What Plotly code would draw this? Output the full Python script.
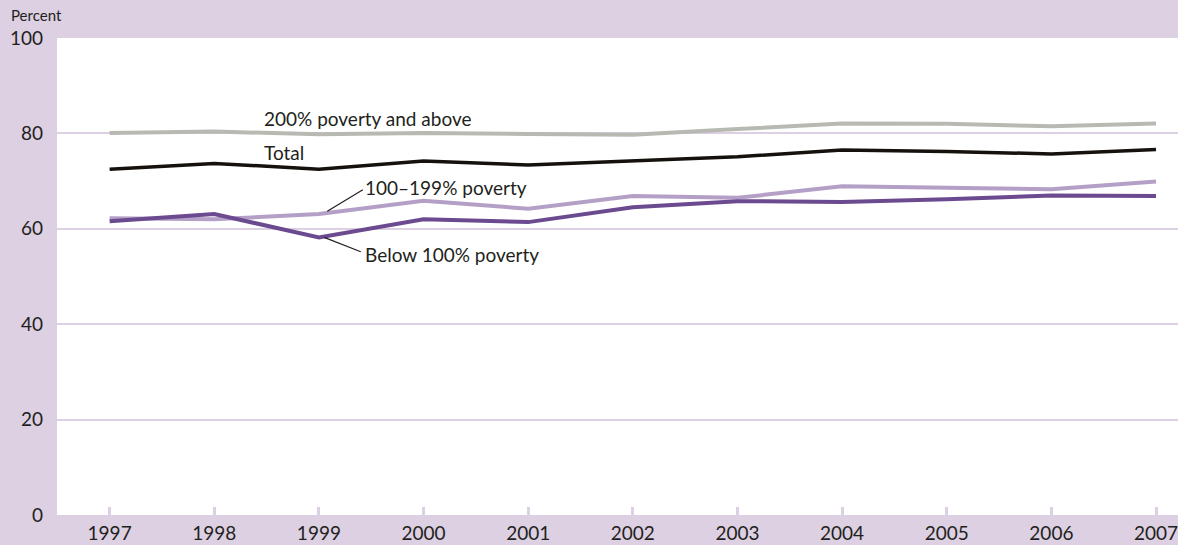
"""Line chart: percent by poverty status, 1997-2007."""
import plotly.graph_objects as go

BG = "#dcd0e2"
TEXT = "#231f20"
FONT = "Lato, 'Noto Sans', sans-serif"

years = [1997, 1998, 1999, 2000, 2001, 2002, 2003, 2004, 2005, 2006, 2007]

above_200 = [80.1, 80.4, 79.8, 80.1, 79.9, 79.7, 80.9, 82.1, 82.0, 81.5, 82.1]
total = [72.5, 73.7, 72.5, 74.2, 73.4, 74.3, 75.1, 76.5, 76.2, 75.7, 76.6]
pov_100_199 = [62.2, 62.0, 63.1, 65.9, 64.2, 66.9, 66.5, 68.9, 68.6, 68.3, 69.9]
below_100 = [61.6, 63.1, 58.2, 62.0, 61.4, 64.5, 65.8, 65.6, 66.2, 67.0, 66.9]

y_ticks = [0, 20, 40, 60, 80, 100]

series = [
    ("200% poverty and above", above_200, "#b9b9b4", 4),
    ("Total", total, "#15110d", 3.5),
    ("100–199% poverty", pov_100_199, "#b4a0c6", 4),
    ("Below 100% poverty", below_100, "#6b4a8f", 4),
]

# label text, x, y (data units)
labels = [
    ("200% poverty and above", 1998.46, 83.2),
    ("Total", 1998.46, 76.0),
    ("100–199% poverty", 1999.42, 68.6),
    ("Below 100% poverty", 1999.42, 54.7),
]

# leader lines: (x0, y0, x1, y1)
leaders = [
    (1999.08, 63.7, 1999.42, 68.2),
    (1999.05, 58.2, 1999.40, 55.2),
]

fig = go.Figure()
for name, vals, color, width in series:
    fig.add_trace(go.Scatter(
        x=years, y=vals, mode="lines", name=name,
        line=dict(color=color, width=width),
    ))

for text, x, y in labels:
    fig.add_annotation(
        x=x, y=y, text=text, showarrow=False,
        xanchor="left", yanchor="middle",
        font=dict(size=19, color=TEXT, family=FONT),
    )

for x0, y0, x1, y1 in leaders:
    fig.add_shape(type="line", x0=x0, y0=y0, x1=x1, y1=y1,
                  line=dict(color=TEXT, width=1.2))

# axis title sits in the top-left margin
fig.add_annotation(
    x=-0.043, y=1.048, xref="paper", yref="paper", yanchor="middle",
    xanchor="left", text="Percent", showarrow=False,
    font=dict(size=15, color=TEXT, family=FONT),
)

fig.update_layout(
    width=1178, height=545,
    margin=dict(l=57, r=0, t=38, b=30),
    paper_bgcolor=BG,
    plot_bgcolor="white",
    showlegend=False,
    font=dict(family=FONT, color=TEXT, size=18),
)
fig.update_xaxes(
    range=[1996.497, 2007.21],
    tickvals=years,
    ticks="inside", ticklen=8, tickwidth=2.5, tickcolor=BG,
    ticklabelstandoff=5,
    ticklabeloverflow="allow",
    showgrid=False, zeroline=False, showline=False,
    tickfont=dict(size=19, color=TEXT),
)
fig.update_yaxes(
    range=[0, 100],
    tickvals=y_ticks,
    showgrid=True, gridcolor=BG, gridwidth=2,
    zeroline=False, showline=False,
    ticklabelstandoff=13,
    tickfont=dict(size=19, color=TEXT),
)

fig.write_html(
    "out.html",
    config={"displayModeBar": False},
    post_script="document.body.style.margin='0';",
)
